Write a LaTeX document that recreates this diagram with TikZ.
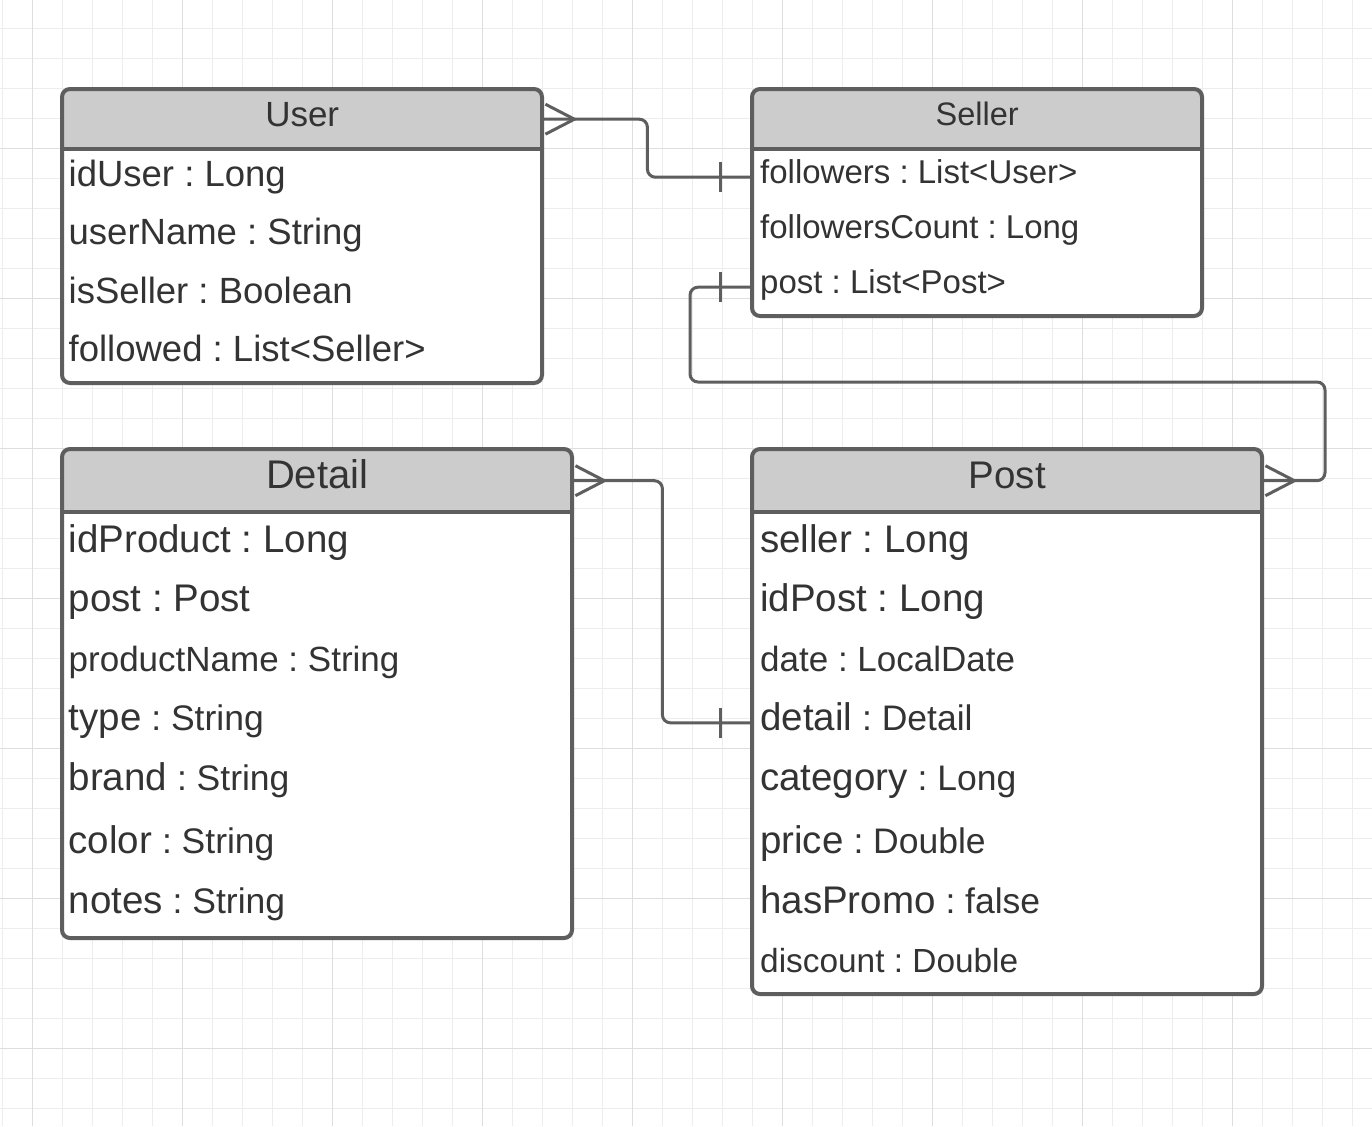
\documentclass[tikz,border=0pt]{standalone}
\usepackage{fontspec}
\setmainfont{Liberation Sans}
\frenchspacing
\definecolor{linegray}{HTML}{5E5E5E}
\definecolor{txtgray}{HTML}{333333}
\definecolor{headgray}{HTML}{CCCCCC}
\definecolor{gridminor}{HTML}{EDEDED}
\definecolor{gridmajor}{HTML}{DEDEDE}
\newcommand\fsz[1]{\fontsize{#1bp}{#1bp}\selectfont}
\newcommand\rs{\rule[-0.35em]{0pt}{1.1em}}

\begin{document}
\begin{tikzpicture}[x=1bp, y=-1bp,
    headcell/.style={anchor=north west, inner sep=0pt, text=txtgray},
    rowcell/.style={anchor=base west, inner ysep=0pt, inner xsep=#1, text=txtgray},
    tableline/.style={draw=linegray, line width=4bp, rounded corners=8bp},
    link/.style={draw=linegray, line width=3bp, rounded corners=8bp},
    minorgrid/.style={draw=gridminor, line width=1bp},
    majorgrid/.style={draw=gridmajor, line width=1.3bp}]

    \useasboundingbox (0,0) rectangle (1372,1126);
    \fill[white] (0,0) rectangle (1372,1126);

    %grid
    \foreach \x in {0,...,45} {
        \draw[minorgrid] ({2.7+30*\x},0) -- ++(0,1126);
    }
    \foreach \y in {0,...,36} {
        \draw[minorgrid] (0,{28.3+30*\y}) -- ++(1372,0);
    }
    \foreach \x in {0,...,8} {
        \draw[majorgrid] ({32.7+150*\x},0) -- ++(0,1126);
    }
    \foreach \y in {1,...,7} {
        \draw[majorgrid] (0,{-1.7+150*\y}) -- ++(1372,0);
    }

    %tables
    \foreach \xa/\xb/\ya/\yh/\yb in {62/542/89/149/383, 752/1202/89/149/316, 62/572/449/512/938, 752/1262/449/512/994} {
        \fill[white, rounded corners=8bp] (\xa,\ya) rectangle (\xb,\yb);
        \fill[headgray, rounded corners=8bp] (\xa,\ya) rectangle (\xb,\yh);
        \fill[headgray] (\xa,{(\ya+\yh)/2}) rectangle (\xb,\yh);
        \draw[tableline] (\xa,\ya) rectangle (\xb,\yb);
        \draw[draw=linegray, line width=4bp] (\xa,\yh) -- (\xb,\yh);
    }

    \node[headcell, minimum width=480bp, minimum height=60bp, font=\fsz{35}] (userhead) at (62,89) {\rs User};
    \node[headcell, minimum width=450bp, minimum height=60bp, font=\fsz{32.5}] (sellerhead) at (752,89) {\rs Seller};
    \node[headcell, minimum width=510bp, minimum height=63bp, font=\fsz{40}] (detailhead) at (62,449) {\rs Detail};
    \node[headcell, minimum width=510bp, minimum height=63bp, font=\fsz{38.5}] (posthead) at (752,449) {\rs Post};

    %User
    \node[rowcell=6.5bp, font=\fsz{36.5}] (useriduser) at (62,186.5) {\rs idUser : Long};
    \node[rowcell=6.5bp, font=\fsz{36.5}] (username) at (62,244.5) {\rs userName : String};
    \node[rowcell=6.5bp, font=\fsz{36.5}] (userisseller) at (62,303) {\rs isSeller : Boolean};
    \node[rowcell=6.5bp, font=\fsz{36.5}] (userfollowed) at (62,361) {\rs followed : List<Seller>};

    %Seller
    \node[rowcell=8bp, font=\fsz{33}] (sellerfollowers) at (752,183.8) {\rs followers : List<User>};
    \node[rowcell=8bp, font=\fsz{33}] (sellercount) at (752,238.8) {\rs followersCount : Long};
    \node[rowcell=8bp, font=\fsz{33}] (sellerpost) at (752,293.8) {\rs post : List<Post>};

    %Detail
    \node[rowcell=6.5bp, font=\fsz{38.5}] (detailid) at (62,552.2) {\rs idProduct : Long};
    \node[rowcell=6.5bp, font=\fsz{38.5}] (detailpost) at (62,611.5) {\rs post : Post};
    \node[rowcell=6.5bp, font=\fsz{35}] (detailname) at (62,671.5) {\rs productName : String};
    \node[rowcell=6.5bp, font=\fsz{38.5}] (detailtype) at (62,730.5) {\rs type{\fsz{35.5} : String}};
    \node[rowcell=6.5bp, font=\fsz{38.5}] (detailbrand) at (62,790.5) {\rs brand{\fsz{35.5} : String}};
    \node[rowcell=6.5bp, font=\fsz{38.5}] (detailcolor) at (62,853.8) {\rs color{\fsz{35.5} : String}};
    \node[rowcell=6.5bp, font=\fsz{38.5}] (detailnotes) at (62,913.8) {\rs notes{\fsz{35.5} : String}};

    %Post
    \node[rowcell=8bp, font=\fsz{38.5}] (postseller) at (752,552.2) {\rs seller : Long};
    \node[rowcell=8bp, font=\fsz{38.5}] (postid) at (752,611.5) {\rs idPost : Long};
    \node[rowcell=8bp, font=\fsz{35}] (postdate) at (752,671.5) {\rs date : LocalDate};
    \node[rowcell=8bp, font=\fsz{38.5}] (postdetail) at (752,730.5) {\rs detail{\fsz{35.5} : Detail}};
    \node[rowcell=8bp, font=\fsz{38.5}] (postcategory) at (752,790.5) {\rs category{\fsz{35.5} : Long}};
    \node[rowcell=8bp, font=\fsz{38.5}] (postprice) at (752,853.2) {\rs price{\fsz{35.5} : Double}};
    \node[rowcell=8bp, font=\fsz{38.5}] (postpromo) at (752,913.2) {\rs hasPromo{\fsz{35.5} : false}};
    \node[rowcell=8bp, font=\fsz{33.4}] (postdiscount) at (752,972.2) {\rs discount : Double};

    %User -- Seller
    \draw[link] (userhead.east) -- ++(105,0) |- (sellerfollowers.west);
    \draw[link, sharp corners] (userhead.east) ++(32,0) coordinate (userfoot) ++(-29,-15) -- (userfoot) -- ++(-29,15);
    \draw[link, sharp corners] (sellerfollowers.west) ++(-32,-15) -- ++(0,30);

    %Seller -- Post
    \draw[link] (sellerpost.west) -| (690,382) -- (1325,382) |- (posthead.east);
    \draw[link, sharp corners] (posthead.east) ++(32,0) coordinate (postfoot) ++(-29,-15) -- (postfoot) -- ++(-29,15);
    \draw[link, sharp corners] (sellerpost.west) ++(-32,-15) -- ++(0,30);

    %Detail -- Post
    \draw[link] (detailhead.east) -- ++(90,0) |- (postdetail.west);
    \draw[link, sharp corners] (detailhead.east) ++(32,0) coordinate (detailfoot) ++(-29,-15) -- (detailfoot) -- ++(-29,15);
    \draw[link, sharp corners] (postdetail.west) ++(-32,-15) -- ++(0,30);

\end{tikzpicture}
\end{document}
